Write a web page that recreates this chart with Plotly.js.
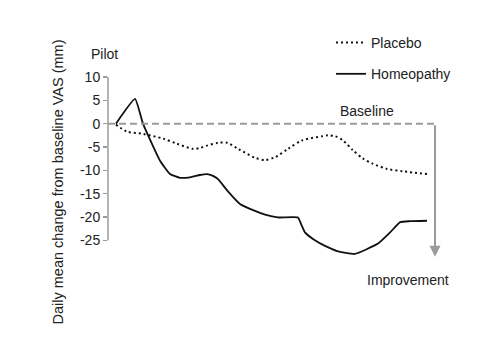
<!DOCTYPE html>
<html>
<head>
<meta charset="utf-8">
<script src="https://cdn.plot.ly/plotly-3.0.1.min.js"></script>
<style>html,body{margin:0;padding:0;background:#fff;}#chart{width:500px;height:363px;}</style>
</head>
<body>
<div id="chart"></div>
<script>
// Data (x = time in days, y = mm change from baseline)
const placeboDays = [0, 0.57, 1.39, 2.42, 3.14, 3.96, 4.32, 4.68, 5.25, 5.71, 6.28, 7.15, 7.67, 8.18, 8.85, 9.57, 10.6, 10.91, 11.27, 11.68, 12.19, 12.71, 13.22, 13.94, 14.76, 16.0];
const placeboValues = [-0.2, -1.7, -2.2, -3.2, -4.3, -5.4, -5.2, -4.7, -4.1, -4.1, -5.4, -7.3, -7.8, -7.2, -5.4, -3.6, -2.7, -2.5, -2.7, -3.6, -5.7, -7.5, -8.6, -9.7, -10.2, -10.8];
const homeoDays = [0, 0.98, 1.39, 2.26, 2.78, 3.29, 3.81, 4.32, 4.68, 4.99, 5.25, 5.76, 6.38, 7.15, 7.67, 8.33, 9.36, 9.55, 9.72, 10.23, 10.75, 11.37, 12.29, 13.48, 14.10, 14.62, 15.12, 16.0];
const homeoValues = [0, 5.3, 0, -7.9, -10.8, -11.6, -11.5, -11.0, -10.8, -11.2, -11.9, -14.5, -17.2, -18.7, -19.5, -20.1, -20.1, -21.8, -23.3, -25.0, -26.2, -27.3, -27.9, -25.7, -23.3, -21.1, -20.9, -20.8];
const seriesNames = ['Placebo', 'Homeopathy'];
const yTicks = [10, 5, 0, -5, -10, -15, -20, -25];
const yTitle = 'Daily mean change from baseline VAS (mm)';
const labelPilot = 'Pilot';
const labelBaseline = 'Baseline';
const labelImprovement = 'Improvement';

const xRange = [-0.41, 18.21];
const yRange = [-35, 10];
const baselineEnd = 16.41;
const arrowTip = -28.5;

const FONT = '"Liberation Sans", Arial, Helvetica, sans-serif';
const TXT = '#222';
const GREY = '#9a9a9a';

const traces = [
  {x: placeboDays, y: placeboValues, name: seriesNames[0], type: 'scatter', mode: 'lines',
   legendgroup: 'a', line: {color: '#111', width: 2, dash: '2px,3px', shape: 'spline', smoothing: 0.8}},
  {x: homeoDays, y: homeoValues, name: seriesNames[1], type: 'scatter', mode: 'lines',
   legendgroup: 'b', line: {color: '#111', width: 1.8, shape: 'spline', smoothing: 0.4}}
];

const layout = {
  width: 500, height: 363,
  margin: {l: 108, r: 30, t: 77, b: 76},
  paper_bgcolor: '#fff', plot_bgcolor: '#fff',
  font: {family: FONT, size: 14, color: TXT},
  showlegend: true,
  legend: {x: 0.616, xanchor: 'left', y: 1.238, yanchor: 'top', bgcolor: 'rgba(0,0,0,0)',
           font: {family: FONT, size: 14, color: TXT}, traceorder: 'grouped', tracegroupgap: 10},
  xaxis: {range: xRange, showline: false, showgrid: false, zeroline: false, showticklabels: false, ticks: '', fixedrange: true},
  yaxis: {range: yRange, tickvals: yTicks, ticktext: yTicks.map(String), ticks: 'outside', ticklen: 4,
          tickcolor: GREY, tickwidth: 1.5, showline: false, showgrid: false, zeroline: false,
          tickfont: {family: FONT, size: 14, color: TXT},
          title: {text: yTitle, font: {family: FONT, size: 14.5, color: TXT}, standoff: 12}},
  shapes: [
    {type: 'line', xref: 'paper', yref: 'y', x0: 0, x1: 0, y0: yTicks[yTicks.length-1], y1: yTicks[0],
     line: {color: GREY, width: 1.5}},
    {type: 'line', xref: 'x', yref: 'y', x0: xRange[0], x1: baselineEnd, y0: 0, y1: 0,
     line: {color: GREY, width: 2, dash: '7px,4px'}}
  ],
  annotations: [
    {xref: 'x', yref: 'y', x: baselineEnd, y: arrowTip, axref: 'x', ayref: 'y', ax: baselineEnd, ay: 0,
     text: '', showarrow: true, arrowhead: 2, arrowsize: 1.1, arrowwidth: 2, arrowcolor: GREY, standoff: 0},
    {xref: 'paper', yref: 'paper', x: -0.011, y: 1.11, text: labelPilot, showarrow: false,
     xanchor: 'center', yanchor: 'middle', font: {family: FONT, size: 14, color: TXT}},
    {xref: 'x', yref: 'y', x: 12.91, y: 2.63, text: labelBaseline, showarrow: false,
     xanchor: 'center', yanchor: 'middle', font: {family: FONT, size: 14, color: TXT}},
    {xref: 'x', yref: 'y', x: 15.0, y: -33.6, text: labelImprovement, showarrow: false,
     xanchor: 'center', yanchor: 'middle', font: {family: FONT, size: 14, color: TXT}}
  ]
};

Plotly.newPlot('chart', traces, layout, {displayModeBar: false, staticPlot: true});
</script>
</body>
</html>
